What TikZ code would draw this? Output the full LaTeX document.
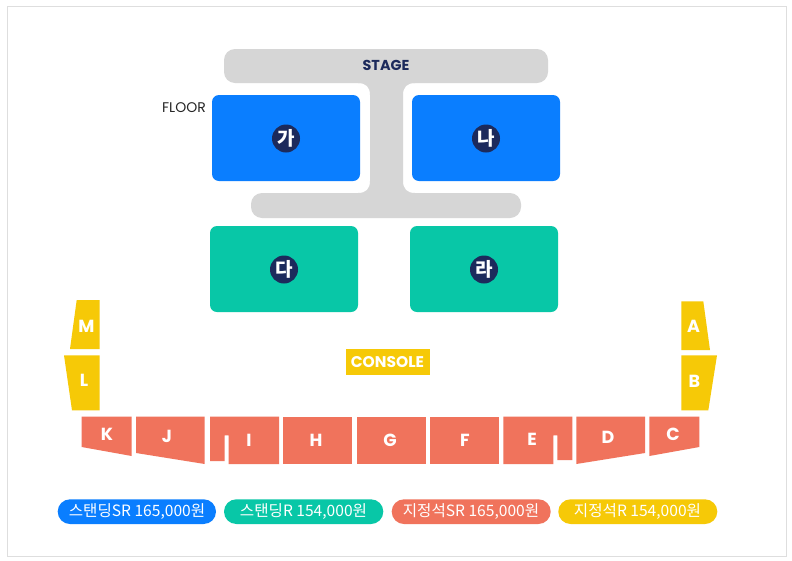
\documentclass[tikz,border=0pt]{standalone}
\usepackage{fontspec}
\setmainfont{Poppins}
\newfontfamily\krfont{Noto Sans CJK KR}
\definecolor{cblue}{HTML}{0A7EFF}
\definecolor{cteal}{HTML}{08C7A7}
\definecolor{csalmon}{HTML}{F0735C}
\definecolor{cyellow}{HTML}{F6C907}
\definecolor{cgray}{HTML}{D6D6D6}
\definecolor{cnavy}{HTML}{1C2A5C}
\tikzset{
  x=1pt,y=-1pt,
  block/.style={rounded corners=7pt,fill=#1},
  badge/.style={circle,fill=cnavy,text=white,inner sep=0pt,minimum size=28pt,font=\krfont\bfseries\fontsize{19}{19}\selectfont},
  seat/.style={text=white,inner sep=0pt,font=\bfseries\fontsize{17.5}{18}\selectfont},
  pill/.style={rounded corners=12.3pt,fill=#1},
  pilltext/.style={text=white,inner sep=0pt,font=\krfont\fontsize{15.6}{16}\selectfont},
}
\begin{document}
\begin{tikzpicture}
\useasboundingbox (0,0) rectangle (792,560);
\fill[white] (0,0) rectangle (792,560);
\draw[cgray!80,line width=0.8pt] (7.5,6.5) rectangle (786,556);
% stage
\fill[cgray,rounded corners=11pt] (224,49) rectangle (548,83);
\fill[cgray,rounded corners=11pt] (251,193) rectangle (521,218);
\fill[cgray] (358,80) -- (358,83) .. controls (366,83) and (370,87) .. (370,95) -- (370,181) .. controls (370,189) and (366,193) .. (358,193) -- (358,196) -- (415,196) -- (415,193) .. controls (407,193) and (403,189) .. (403,181) -- (403,95) .. controls (403,87) and (407,83) .. (415,83) -- (415,80) -- cycle;
\node[text=cnavy,inner sep=0pt,font=\bfseries\fontsize{14.4}{14}\selectfont] (stage) at (386,65.5) {STAGE};
\node[text=black!85,inner sep=0pt,font=\fontsize{14}{14}\selectfont] (floor) at (184,108) {FLOOR};
% floor blocks
\fill[block=cblue] (212,95) rectangle (360,181);
\fill[block=cblue] (412,95) rectangle (560,181);
\fill[block=cteal] (210,226) rectangle (358,312);
\fill[block=cteal] (410,226) rectangle (558,312);
\node[badge] (ga) at (286,138.5) {가};
\node[badge] (na) at (486,138.5) {나};
\node[badge] (da) at (284,269.5) {다};
\node[badge] (ra) at (484,269.5) {라};
% yellow seats
\fill[cyellow] (76.7,300) -- (99.7,300) -- (99.7,349) -- (70,349) -- cycle;
\fill[cyellow] (64,355.3) -- (99.7,355.3) -- (99.7,410.3) -- (72,410.3) -- cycle;
\fill[cyellow] (681.3,301.3) -- (703.3,301.3) -- (710,350) -- (681.3,350) -- cycle;
\fill[cyellow] (681.3,355.3) -- (717,355.3) -- (708.3,410.3) -- (681.3,410.3) -- cycle;
\node[seat] (sM) at (86.5,326) {M};
\node[seat] (sL) at (84,380) {L};
\node[seat] (sA) at (693.5,326) {A};
\node[seat] (sB) at (694.5,381) {B};
% console
\fill[cyellow] (346,349) rectangle (430,375);
\node[seat,font=\bfseries\fontsize{15.5}{16}\selectfont] (console) at (387.5,362.5) {CONSOLE};
% salmon seats
\fill[csalmon] (81.7,416.7) -- (131.7,416.7) -- (131.7,456) -- (81.7,447) -- cycle;
\fill[csalmon] (136,416.7) -- (204.7,416.7) -- (204.7,464) -- (136,453) -- cycle;
\fill[csalmon] (210,416.7) -- (279,416.7) -- (279,464) -- (228.7,464) -- (228.7,435.3) -- (224.7,435.3) -- (224.7,461) -- (210,461) -- cycle;
\fill[csalmon] (283,416.7) rectangle (352,464);
\fill[csalmon] (357,416.7) rectangle (425.5,464);
\fill[csalmon] (430,416.7) rectangle (499,464);
\fill[csalmon] (503.3,416.7) -- (572.3,416.7) -- (572.3,460) -- (557.3,460) -- (557.3,435.3) -- (553.3,435.3) -- (553.3,464) -- (503.3,464) -- cycle;
\fill[csalmon] (576.3,416.7) -- (645,416.7) -- (645,453) -- (576.3,464) -- cycle;
\fill[csalmon] (649.3,416.7) -- (699.3,416.7) -- (699.3,447) -- (649.3,456) -- cycle;
\node[seat] (sK) at (107,434) {K};
\node[seat] (sJ) at (167,436) {J};
\node[seat] (sI) at (249,440) {I};
\node[seat] (sH) at (316,440) {H};
\node[seat] (sG) at (390,440) {G};
\node[seat] (sF) at (465,440) {F};
\node[seat] (sE) at (532,439) {E};
\node[seat] (sD) at (608,437) {D};
\node[seat] (sC) at (673,434) {C};
% legend
\fill[pill=cblue] (57.7,499.3) rectangle (216,524);
\fill[pill=cteal] (224,499.3) rectangle (383.3,524);
\fill[pill=csalmon] (391.7,499.3) rectangle (550.7,524);
\fill[pill=cyellow] (558.3,499.3) rectangle (717.3,524);
\node[pilltext] (p1) at (137,511.5) {스탠딩SR 165,000원};
\node[pilltext] (p2) at (303.5,511.5) {스탠딩R 154,000원};
\node[pilltext] (p3) at (471,511.5) {지정석SR 165,000원};
\node[pilltext] (p4) at (637.5,511.5) {지정석R 154,000원};
\end{tikzpicture}
\end{document}
